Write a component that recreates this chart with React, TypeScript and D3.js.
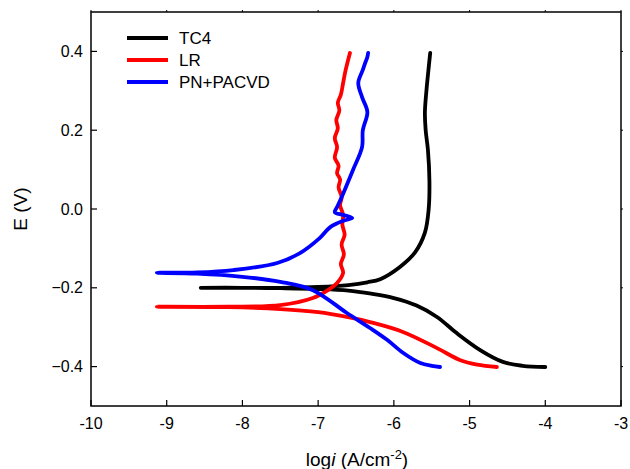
import React from 'react';
import * as d3 from 'd3';

/* ─── Data (log i, E) ─── */
const TC4_LOGI = [-4.0, -4.3, -4.56, -4.86, -5.17, -5.43, -5.7, -6.0, -6.3, -6.6, -7.0, -7.5, -8.0, -8.55,
    -8.0, -7.5, -7.0, -6.6, -6.35, -6.18, -5.92, -5.72, -5.59, -5.54, -5.53, -5.55, -5.58, -5.59, -5.57, -5.55, -5.52];
const TC4_E = [-0.401, -0.398, -0.388, -0.358, -0.315, -0.274, -0.245, -0.226, -0.215, -0.207, -0.203, -0.201, -0.2, -0.2,
    -0.2, -0.2, -0.198, -0.193, -0.186, -0.178, -0.147, -0.11, -0.06, 0.0, 0.07, 0.15, 0.2, 0.244, 0.3, 0.34, 0.396];

const LR_LOGI = [-4.64, -4.9, -5.13, -5.43, -5.88, -6.315, -6.62, -7.0, -7.5, -8.2, -9.13,
    -8.2, -7.5, -7.07, -6.87, -6.75, -6.67, -6.70, -6.66, -6.69, -6.65, -6.68, -6.67, -6.71, -6.69, -6.73, -6.71, -6.75, -6.73,
    -6.78, -6.75, -6.78, -6.74, -6.76, -6.72, -6.74, -6.70, -6.67, -6.64, -6.58];
const LR_E = [-0.401, -0.395, -0.383, -0.353, -0.312, -0.287, -0.274, -0.262, -0.254, -0.249, -0.248,
    -0.248, -0.244, -0.226, -0.206, -0.188, -0.162, -0.14, -0.115, -0.09, -0.065, -0.04, -0.015, 0.01, 0.03, 0.055, 0.075, 0.091, 0.11,
    0.13, 0.157, 0.18, 0.205, 0.226, 0.25, 0.27, 0.29, 0.32, 0.35, 0.396];

const PN_LOGI = [-5.39, -5.5, -5.65, -5.88, -6.09, -6.315, -6.62, -7.07, -7.5, -8.0, -8.6, -9.13,
    -8.6, -8.12, -7.54, -7.24, -6.98, -6.84, -6.67, -6.55, -6.67, -6.78, -6.75, -6.69, -6.54, -6.42, -6.41, -6.35,
    -6.42, -6.47, -6.41, -6.38, -6.35, -6.34];
const PN_E = [-0.401, -0.398, -0.391, -0.365, -0.332, -0.302, -0.264, -0.206, -0.185, -0.172, -0.164, -0.162,
    -0.161, -0.155, -0.137, -0.112, -0.074, -0.046, -0.03, -0.023, -0.015, -0.008, 0.005, 0.03, 0.099, 0.157, 0.2, 0.246,
    0.284, 0.32, 0.353, 0.37, 0.386, 0.396];

const SERIES = [
    { name: 'TC4', color: '#000000', x: TC4_LOGI, y: TC4_E },
    { name: 'LR', color: '#ff0000', x: LR_LOGI, y: LR_E },
    { name: 'PN+PACVD', color: '#0000ff', x: PN_LOGI, y: PN_E },
];

const X_TICKS = [-10, -9, -8, -7, -6, -5, -4, -3];
const Y_TICKS = [-0.4, -0.2, 0.0, 0.2, 0.4];

const FONT = "Arial, 'Liberation Sans', sans-serif";

export default function App() {
    const W = 630, H = 469;
    const x = d3.scaleLinear().domain([-10, -3]).range([91, 621]);
    const y = d3.scaleLinear().domain([-0.5, 0.5]).range([406, 12]);

    const line = d3.line<[number, number]>()
        .x(d => x(d[0])).y(d => y(d[1]))
        .curve(d3.curveCatmullRom.alpha(0.5));

    return (
        <svg width={W} height={H} style={{ display: 'block', position: 'absolute', left: 0, top: 0 }}>
            <rect width={W} height={H} fill="#fff" />

            {/* Curves */}
            {SERIES.map(s => (
                <path key={s.name} d={line(s.x.map((v, i) => [v, s.y[i]] as [number, number])) || ''}
                    fill="none" stroke={s.color} strokeWidth={3.8} strokeLinecap="round" strokeLinejoin="round" />
            ))}

            {/* Frame */}
            <rect x={x(-10)} y={y(0.5)} width={x(-3) - x(-10)} height={y(-0.5) - y(0.5)}
                fill="none" stroke="#000" strokeWidth={1.5} />

            {/* X ticks */}
            {X_TICKS.map(t => (
                <g key={'x' + t}>
                    <line x1={x(t)} x2={x(t)} y1={y(-0.5)} y2={y(-0.5) - 6} stroke="#000" strokeWidth={1.2} />
                    <line x1={x(t)} x2={x(t)} y1={y(0.5)} y2={y(0.5) - 2} stroke="#000" strokeWidth={1} />
                    <text x={x(t)} y={429} textAnchor="middle" fontFamily={FONT} fontSize={16}>{t}</text>
                </g>
            ))}

            {/* Y ticks */}
            {Y_TICKS.map(t => (
                <g key={'y' + t}>
                    <line x1={x(-10)} x2={x(-10) + 6} y1={y(t)} y2={y(t)} stroke="#000" strokeWidth={1.2} />
                    <line x1={x(-3)} x2={x(-3) + 2} y1={y(t)} y2={y(t)} stroke="#000" strokeWidth={1} />
                    <text x={83} y={y(t)} dy="0.35em" textAnchor="end" fontFamily={FONT} fontSize={16}>{d3.format('.1f')(t)}</text>
                </g>
            ))}

            {/* Axis titles */}
            <text x={357} y={466} textAnchor="middle" fontFamily={FONT} fontSize={19}>
                log<tspan fontStyle="italic">i</tspan> (A/cm<tspan dy={-7} fontSize={13}>-2</tspan><tspan dy={7}>)</tspan>
            </text>
            <text transform={`translate(27,${y(0)}) rotate(-90)`} textAnchor="middle" fontFamily={FONT} fontSize={19}>E (V)</text>

            {/* Legend */}
            {SERIES.map((s, i) => (
                <g key={'lg' + s.name} transform={`translate(127,${38 + i * 22})`}>
                    <line x1={0} x2={41} y1={0} y2={0} stroke={s.color} strokeWidth={3.8} />
                    <text x={52} y={0} dy="0.35em" fontFamily={FONT} fontSize={17}>{s.name}</text>
                </g>
            ))}
        </svg>
    );
}
